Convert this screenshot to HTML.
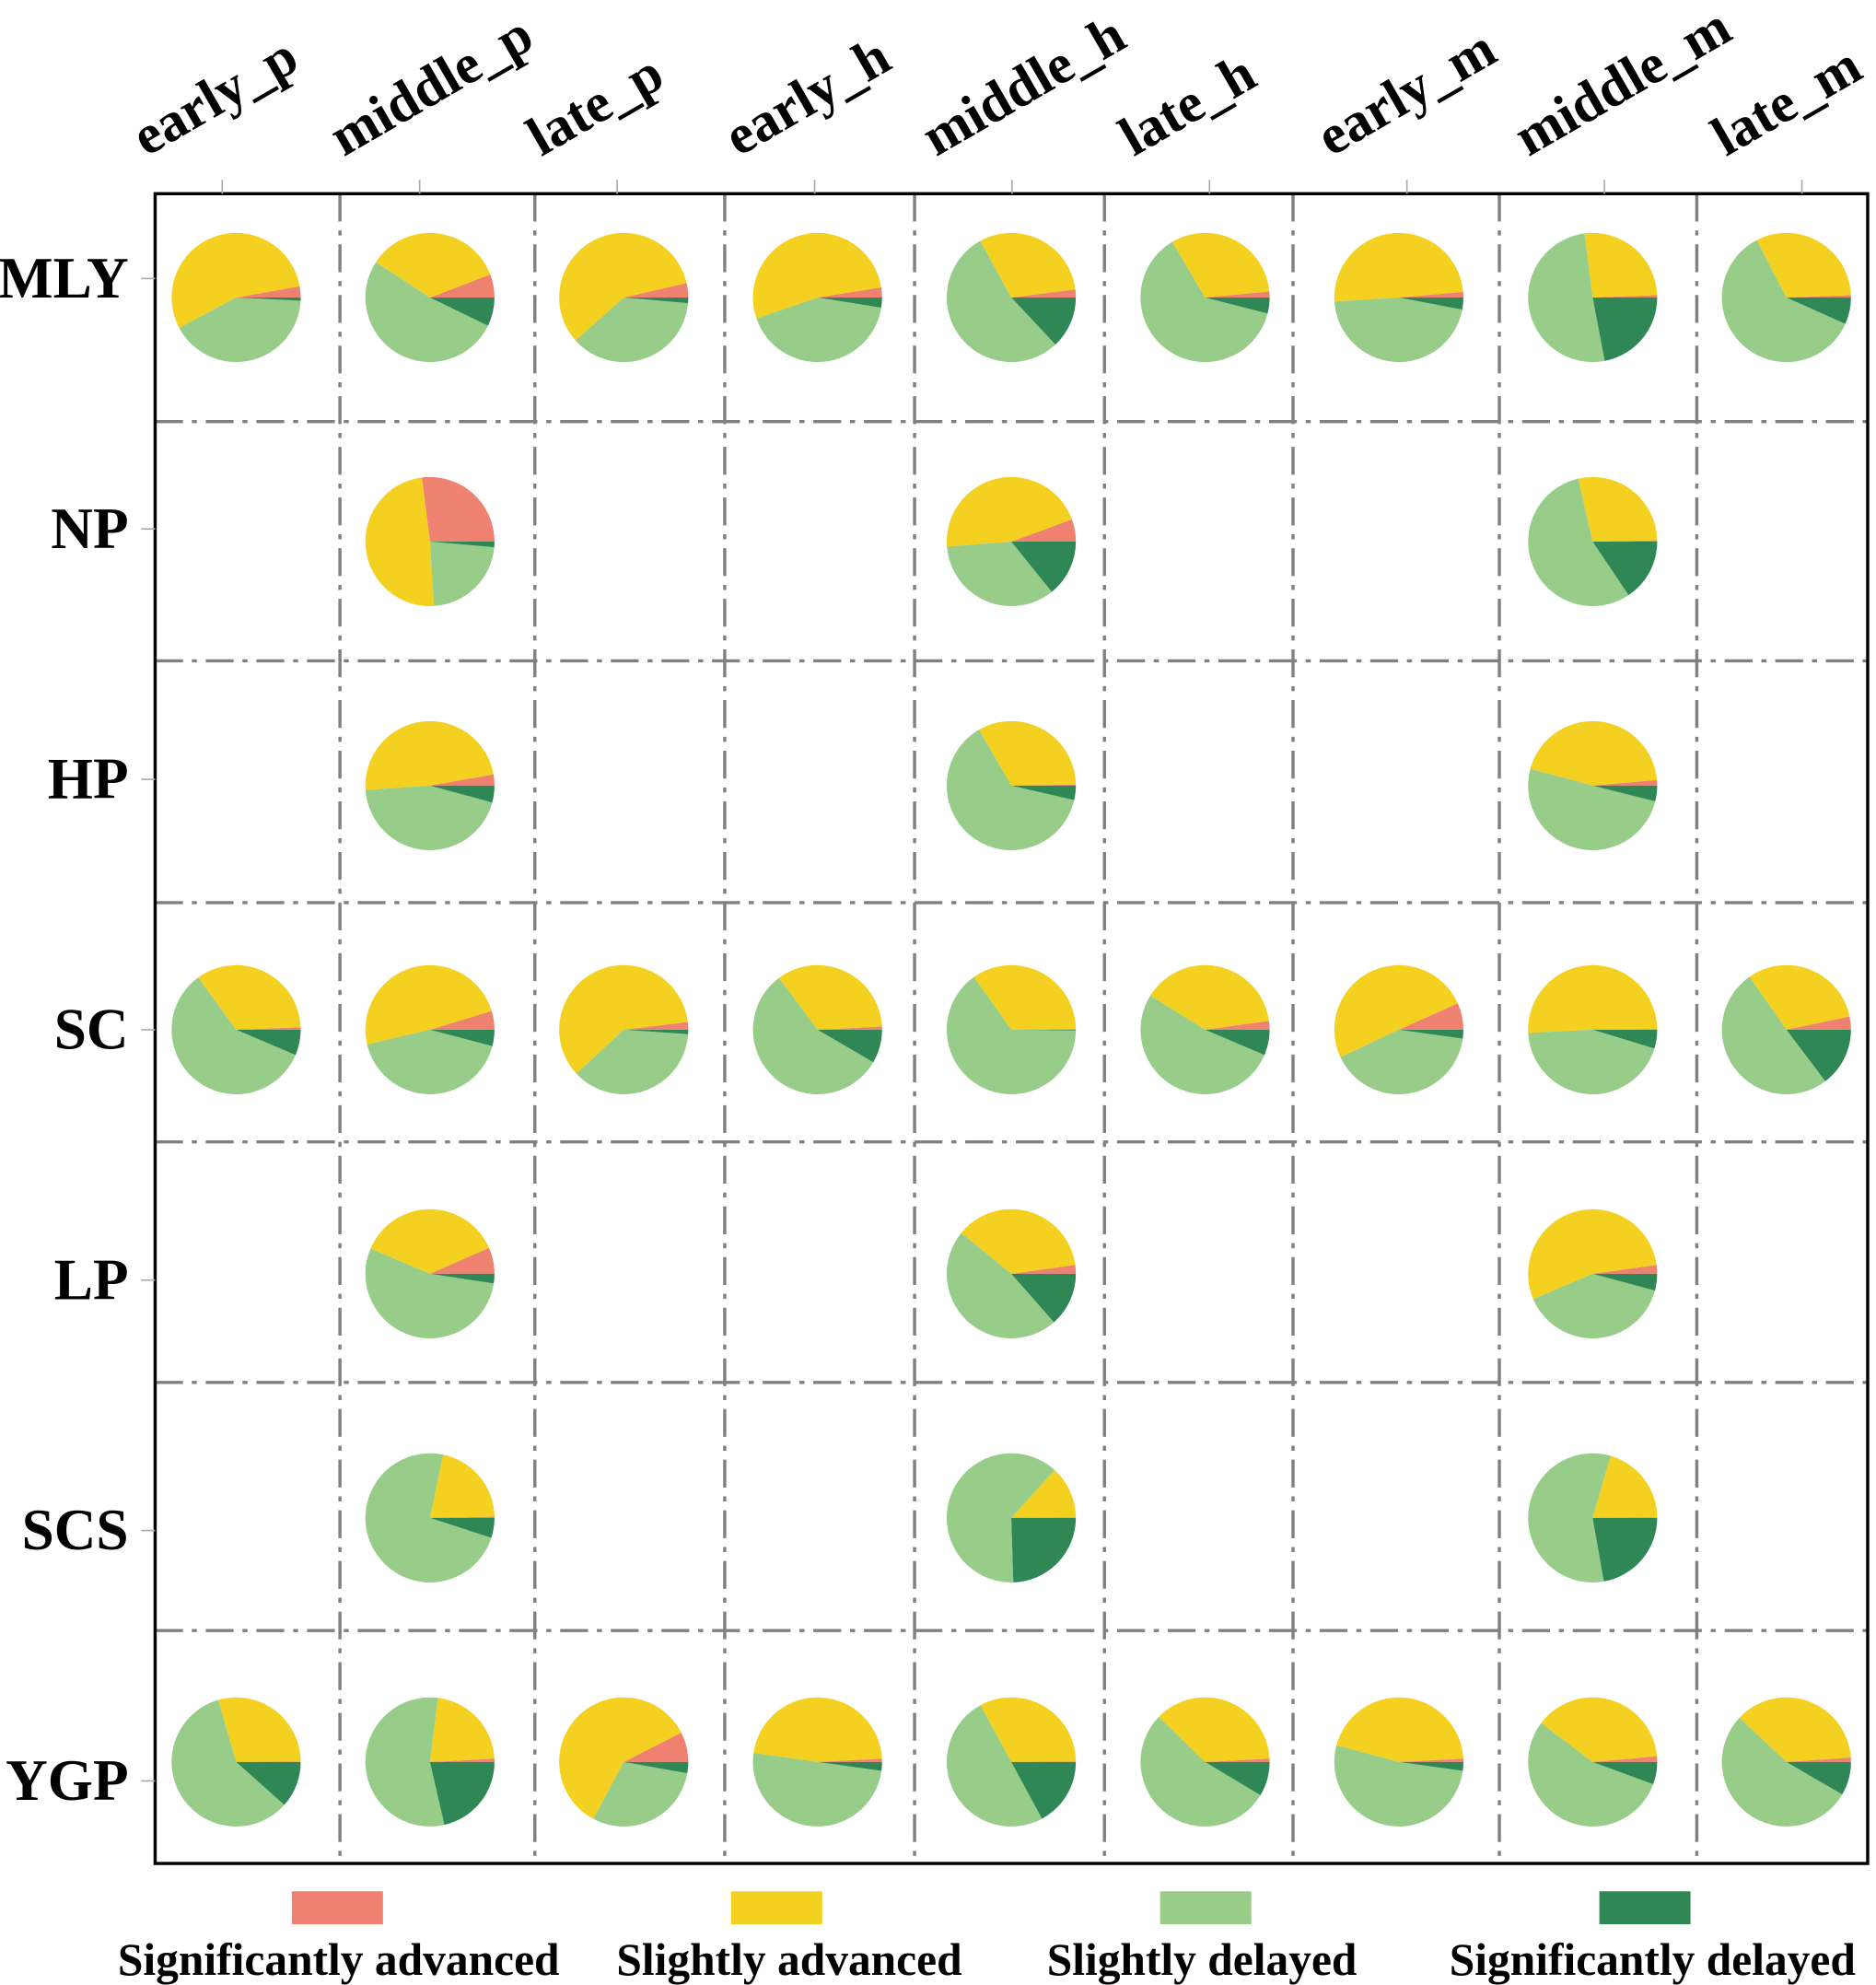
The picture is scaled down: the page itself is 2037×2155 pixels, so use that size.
<!DOCTYPE html>
<html><head><meta charset="utf-8"><style>
html,body{margin:0;padding:0;background:#fff;}
svg{display:block;}
text{font-family:"Liberation Serif",serif;font-weight:bold;fill:#000;}
</style></head><body>
<svg id="chart" width="2037" height="2155" viewBox="0 0 1481 1568" xmlns="http://www.w3.org/2000/svg">
<g id="grid"></g>
<g id="pies"></g>
<rect x="122" y="153" width="1353" height="1319" fill="none" stroke="#000" stroke-width="2.5"/>
<g id="axes"></g>
<g id="legend"></g>
</svg>
<script>
const colLabels = ["early_p","middle_p","late_p","early_h","middle_h","late_h","early_m","middle_m","late_m"];
const rowLabels = ["MLY","NP","HP","SC","LP","SCS","YGP"];
const seriesNames = ["Significantly advanced","Slightly advanced","Slightly delayed","Significantly delayed"];
const cellRow = [0,0,0,0,0,0,0,0,0, 1,1,1, 2,2,2, 3,3,3,3,3,3,3,3,3, 4,4,4, 5,5,5, 6,6,6,6,6,6,6,6,6];
const cellCol = [0,1,2,3,4,5,6,7,8, 1,4,7, 1,4,7, 0,1,2,3,4,5,6,7,8, 1,4,7, 1,4,7, 0,1,2,3,4,5,6,7,8];
const sigAdv = [2.8,5.8,3.6,2.5,2,1.5,1.4,0.6,0.6, 27,5.5,0.3, 2.8,0.3,1.4, 0.6,4.7,1.9,0.8,0.1,2.2,6.7,0.1,3.3, 6.6,2.2,2.2, 0.3,0.1,0.1, 0.1,0.8,7.5,0.8,0.1,0.8,0.8,1.4,1.1];
const slAdv = [55,35,58,52.8,31,32,49.6,26.4,32, 49,45,28.3, 48.3,33,44.4, 34.4,49,60,34.4,34.7,38.9,50.3,50.7,31.4, 37,36.9,54.2, 21.4,13.2,20.4, 29.4,22.2,59.7,46.9,32.8,36.9,45,38.3,36.9];
const slDel = [41.4,52,37,42.2,54,62.5,46,51,60.7, 22.6,34,55.8, 44.7,63,50.3, 58.6,42.2,37,56.4,65,52.5,40.8,44.5,50.6, 54,47.4,39.4, 73.3,62.2,57.2, 58.9,55.6,30,50,50,53.6,51.9,54.7,53.6];
const sigDel = [0.8,7.2,1.4,2.5,13,4,3,22,6.7, 1.4,14,15.6, 4.2,3.6,3.9, 6.4,4.1,1.1,8.4,0.2,6.4,2.2,4.7,14.7, 2.4,13.5,4.2, 5,24.5,22.2, 11.6,21.4,2.8,2.2,17.1,8.6,2.2,5.6,8.4];
const colors = ["#ef8170","#f4d020","#98cc89","#2e8754"];

const NS="http://www.w3.org/2000/svg";
function mk(tag, attrs, parent){const e=document.createElementNS(NS,tag);for(const k in attrs)e.setAttribute(k,attrs[k]);parent.appendChild(e);return e;}
const tickX = i => 175 + 156*i;
const tickY = j => 220 + 197.8*j;
const pieX = i => 186 + 153.1*i;
const pieY = j => 235 + 192.8*j;
const R = 51;

const grid=document.getElementById('grid');
[268,422,572,722,872,1021,1184,1340].forEach(x=>{
  const l=mk('line',{x1:x,y1:153,x2:x,y2:1472,stroke:'#808080','stroke-width':2.5,'stroke-dasharray':'22,7,4,7'},grid);
  
  
});
[333,522,713,902,1092,1288].forEach(y=>{
  const l=mk('line',{x1:122,y1:y,x2:1475,y2:y,stroke:'#808080','stroke-width':2.5,'stroke-dasharray':'22,7,4,7'},grid);
  
  
});

const axes=document.getElementById('axes');
colLabels.forEach((c,i)=>{
  const x=tickX(i);
  const t=mk('line',{x1:x,y1:142,x2:x,y2:153,stroke:'#aaa','stroke-width':1.2},axes);
  
  
  const tx=mk('text',{x:x-60,y:124,'font-size':44,transform:`rotate(-30 ${x-60} 124)`},axes);
  tx.textContent=c;
  
  
});
rowLabels.forEach((r,j)=>{
  const y=tickY(j);
  const t=mk('line',{x1:111,y1:y,x2:122,y2:y,stroke:'#aaa','stroke-width':1.2},axes);
  
  
  const tx=mk('text',{x:101,y:y+15,'font-size':46,'text-anchor':'end'},axes);
  tx.textContent=r;
  
  
});

const pies=document.getElementById('pies');
cellRow.forEach((rw,k)=>{
  const cx=pieX(cellCol[k]), cy=pieY(rw);
  const vals=[sigAdv[k],slAdv[k],slDel[k],sigDel[k]];
  const tot=vals.reduce((a,b)=>a+b,0);
  const g=mk('g',{},pies);
  
  
  let a0=0;
  vals.forEach((v,s)=>{
    const a1=a0+v/tot*2*Math.PI;
    const x0=cx+R*Math.cos(a0), y0=cy-R*Math.sin(a0);
    const x1=cx+R*Math.cos(a1), y1=cy-R*Math.sin(a1);
    const large=(a1-a0)>Math.PI?1:0;
    const p=mk('path',{d:`M${cx},${cy}L${x0},${y0}A${R},${R} 0 ${large} 0 ${x1},${y1}Z`,fill:colors[s]},g);
    
    
    a0=a1;
  });
});

const legend=document.getElementById('legend');
const legX=[266,613,952,1299];
const legTextX=[267,623,949,1305];
seriesNames.forEach((n,s)=>{
  const r=mk('rect',{x:legX[s]-36,y:1494,width:72,height:26,fill:colors[s]},legend);
  
  
  const t=mk('text',{x:legTextX[s],y:1560,'font-size':36,'text-anchor':'middle'},legend);
  t.textContent=n;
  
  
});
</script>
</body></html>
